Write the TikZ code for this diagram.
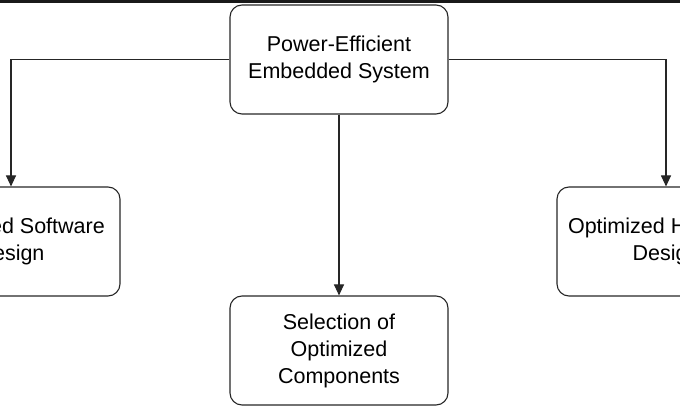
\documentclass[tikz,border=0pt]{standalone}
\usepackage{fontspec}
\setmainfont{Liberation Sans}
\usetikzlibrary{arrows.meta}
\begin{document}
\begin{tikzpicture}[x=1pt,y=-1pt,
  box/.style={draw=black!85,line width=1.1pt,rounded corners=12pt,minimum width=218pt,minimum height=109pt,align=center,font=\fontsize{21.5}{27}\selectfont,inner sep=0pt},
  arr/.style={draw=black!85,line width=1.1pt,-{Triangle[length=11pt,width=10pt]}}]
\useasboundingbox (0,0) rectangle (680,411);
\clip (0,0) rectangle (680,411);
\fill[black!90] (0,0) rectangle (680,3);
\node[box] (top) at (339,59.5) {Power-Efficient\\Embedded System};
\node[box] (left) at (11,241.5) {Optimized Software\\Design};
\node[box] (right) at (666,241.5) {Optimized Hardware\\Design};
\node[box] (bot) at (339,350.5) {Selection of\\Optimized\\Components};
\draw[arr] (top.west) -| (left.north);
\draw[arr] (top.east) -| (right.north);
\draw[arr] (top.south) -- (bot.north);
\end{tikzpicture}
\end{document}
